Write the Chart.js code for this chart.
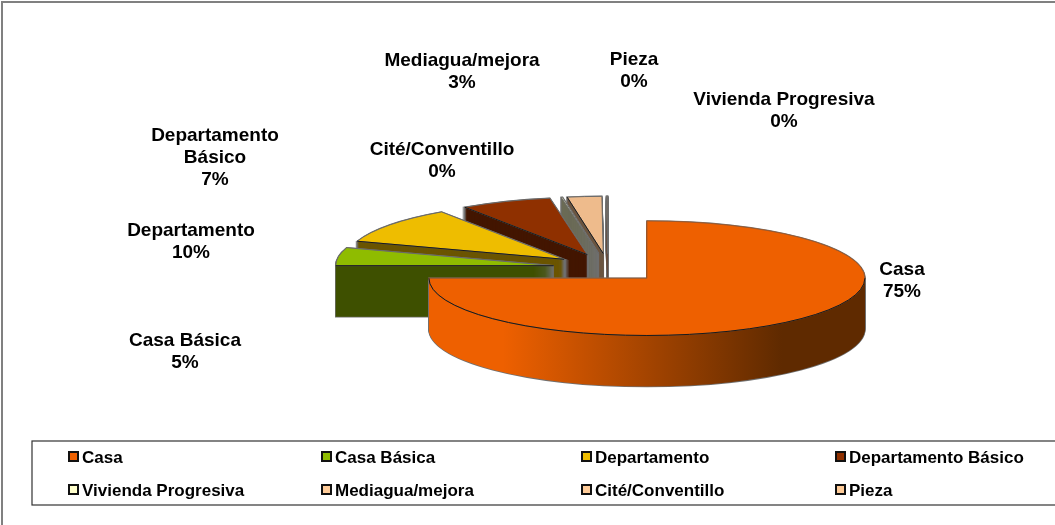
<!DOCTYPE html>
<html>
<head>
<meta charset="utf-8">
<title>Tipo de vivienda</title>
<script src="https://cdn.jsdelivr.net/npm/chart.js@4"></script>
<style>
html,body{margin:0;padding:0;background:#fff;overflow:hidden}
#wrap{width:1055px;height:525px;position:relative}
</style>
</head>
<body>
<div id="wrap"><canvas id="c" width="1055" height="525"></canvas></div>
<script>
// ----- data -----
const categories = ['Casa','Casa Básica','Departamento','Departamento Básico','Vivienda Progresiva','Mediagua/mejora','Cité/Conventillo','Pieza'];
const shares = [75, 5.1, 10.4, 6.75, 0.1, 2.55, 0.05, 0.05];

// ----- styles -----
const topColors  = ['#EE6000','#8FBC00','#EEBD00','#8F3000','#FFFFCC','#EEBB8C','#FFCC99','#FFCC99'];
const wallColors = ['#EE6000','#3F5000','#6B5500','#431600','#6B6B55','#6B5540','#6B5540','#6B5540'];
const swatchColors = ['#EE6000','#8FBC00','#EEBD00','#8F3000','#FFFFCC','#FFCC99','#FFCC99','#FFCC99'];
const labelLines = [['Casa'],['Casa Básica'],['Departamento'],['Departamento','Básico'],['Vivienda Progresiva'],['Mediagua/mejora'],['Cité/Conventillo'],['Pieza']];
const labelAnchors = [[902,270],[185,341],[191,231],[215,136],[784,100],[462,61],[442,150],[634,60]];
const legendCols = [69,322,582,836];
const legendRows = [458,491];
const tilt = 0.2627, depth = 51, explode = 55;
const labelFont = 'bold 19px "Liberation Sans", Arial, sans-serif';
const legendFont = 'bold 17px "Liberation Sans", Arial, sans-serif';

function slicePath(ctx, el, ox, oy){
  const x = el.x + ox, y = el.y + oy, r = el.outerRadius;
  ctx.beginPath();
  ctx.moveTo(x, y);
  ctx.ellipse(x, y, r, r * tilt, 0, el.startAngle, el.endAngle);
  ctx.closePath();
}

const pie3d = {
  id: 'pie3d',
  beforeDraw(chart){
    const ctx = chart.ctx;
    ctx.save();
    ctx.fillStyle = '#fff';
    ctx.fillRect(0, 0, chart.width, chart.height);
    // frame
    ctx.strokeStyle = '#808080';
    ctx.lineWidth = 2;
    ctx.beginPath();
    ctx.moveTo(2, chart.height);
    ctx.lineTo(2, 2);
    ctx.lineTo(chart.width, 2);
    ctx.stroke();
    ctx.restore();
  },
  beforeDatasetsDraw(chart){
    const ctx = chart.ctx;
    const arcs = chart.getDatasetMeta(0).data;
    for (let i = arcs.length - 1; i >= 0; i--) {
      const el = arcs[i];
      const mid = (el.startAngle + el.endAngle) / 2;
      const ox = Math.cos(mid) * explode;
      const oy = Math.sin(mid) * explode * tilt;
      let wall = wallColors[i];
      if (i === 0) {
        const l = el.x + ox - el.outerRadius, w = el.outerRadius * 2;
        const g = ctx.createLinearGradient(l, 0, l + w, 0);
        g.addColorStop(0, '#EE6000');
        g.addColorStop(0.17, '#EE6000');
        g.addColorStop(0.81, '#5F2A00');
        g.addColorStop(1, '#5F2A00');
        wall = g;
      }
      ctx.save();
      // silhouette of the extruded slice
      ctx.strokeStyle = '#707070';
      ctx.lineWidth = 1.5;
      for (let d = depth; d >= 0; d--) { slicePath(ctx, el, ox, oy + d); ctx.stroke(); }
      ctx.fillStyle = wall;
      for (let d = depth; d >= 1; d--) { slicePath(ctx, el, ox, oy + d); ctx.fill(); }
      // top face: the library's own arc, squashed
      ctx.save();
      ctx.translate(ox, oy);
      ctx.translate(el.x, el.y);
      ctx.scale(1, tilt);
      ctx.translate(-el.x, -el.y);
      el.draw(ctx);
      ctx.restore();
      // edges
      ctx.lineWidth = 1;
      ctx.strokeStyle = i === 0 ? '#9a5a30' : '#6a6a6a';
      slicePath(ctx, el, ox, oy); ctx.stroke();
      ctx.strokeStyle = '#1a1a1a';
      const x = el.x + ox, y = el.y + oy, r = el.outerRadius;
      ctx.beginPath();
      if (el.circumference > Math.PI) {
        ctx.ellipse(x, y, r, r * tilt, 0, 0, Math.PI);
      } else if (el.circumference > 0.02) {
        ctx.moveTo(x, y);
        ctx.lineTo(x + Math.cos(el.startAngle) * r, y + Math.sin(el.startAngle) * r * tilt);
      }
      ctx.stroke();
      ctx.restore();
    }
    return false;
  },
  afterDraw(chart){
    const ctx = chart.ctx;
    const total = shares.reduce((a, b) => a + b, 0);
    ctx.save();
    ctx.fillStyle = '#000';
    ctx.textBaseline = 'middle';
    // data labels
    ctx.font = labelFont;
    ctx.textAlign = 'center';
    categories.forEach((_, i) => {
      const [x, y] = labelAnchors[i];
      const lines = labelLines[i].concat(Math.round(shares[i] / total * 100) + '%');
      lines.forEach((t, n) => ctx.fillText(t, x, y + n * 22));
    });
    // legend box
    ctx.strokeStyle = '#333';
    ctx.lineWidth = 1.2;
    ctx.strokeRect(32, 441, chart.width + 20, 64);
    // legend entries
    ctx.font = legendFont;
    ctx.textAlign = 'left';
    categories.forEach((name, i) => {
      const x = legendCols[i % 4], y = legendRows[Math.floor(i / 4)];
      ctx.fillStyle = swatchColors[i];
      ctx.strokeStyle = '#111';
      ctx.lineWidth = 2;
      ctx.fillRect(x, y - 6, 9, 9);
      ctx.strokeRect(x, y - 6, 9, 9);
      ctx.fillStyle = '#000';
      ctx.fillText(name, x + 13, y);
    });
    ctx.restore();
  }
};

new Chart(document.getElementById('c'), {
  type: 'pie',
  data: {
    labels: categories,
    datasets: [{ data: shares, backgroundColor: topColors, borderWidth: 0, offset: 0 }]
  },
  options: {
    responsive: false,
    animation: false,
    events: [],
    radius: 218,
    rotation: 0,
    layout: { padding: { left: 161, top: 11, right: 0, bottom: 0 } },
    plugins: { legend: { display: false }, tooltip: { enabled: false }, title: { display: false } }
  },
  plugins: [pie3d]
});
</script>
</body>
</html>
